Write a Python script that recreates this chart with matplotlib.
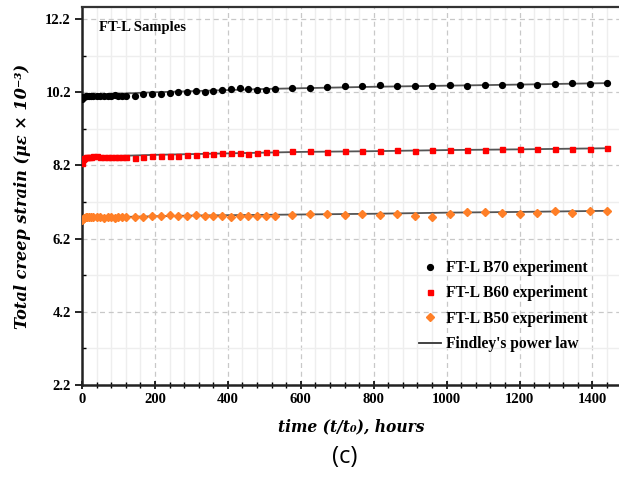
import matplotlib
matplotlib.use("Agg")
import matplotlib.pyplot as plt
from matplotlib.ticker import MultipleLocator, FixedLocator
from matplotlib.lines import Line2D

# time points (hours)
t = [0, 2, 5, 10, 15, 20, 25, 30, 40, 50, 60, 70, 80, 90, 100, 110, 120,
     144, 168, 192, 216, 240, 264, 288, 312, 336, 360, 384, 408, 432, 456,
     480, 504, 528, 576, 624, 672, 720, 768, 816, 864, 912, 960, 1008, 1056,
     1104, 1152, 1200, 1248, 1296, 1344, 1392, 1440]

b70 = [10.02, 10.06, 10.08, 10.09, 10.09, 10.10, 10.10, 10.10, 10.10, 10.11,
       10.10, 10.11, 10.11, 10.12, 10.11, 10.11, 10.10,
       10.09, 10.15, 10.16, 10.15, 10.18, 10.20, 10.22, 10.24, 10.22, 10.24,
       10.25, 10.29, 10.31, 10.29, 10.25, 10.26, 10.29, 10.32, 10.31, 10.35,
       10.36, 10.38, 10.39, 10.38, 10.37, 10.36, 10.40, 10.38, 10.40, 10.39,
       10.39, 10.40, 10.42, 10.44, 10.43, 10.45]

b60 = [8.27, 8.37, 8.40, 8.42, 8.43, 8.43, 8.44, 8.45, 8.45, 8.44,
       8.42, 8.43, 8.44, 8.43, 8.44, 8.43, 8.43,
       8.41, 8.44, 8.45, 8.45, 8.47, 8.47, 8.49, 8.49, 8.51, 8.50,
       8.53, 8.55, 8.53, 8.51, 8.55, 8.57, 8.56, 8.59, 8.59, 8.58,
       8.60, 8.60, 8.60, 8.61, 8.60, 8.62, 8.63, 8.63, 8.63, 8.64,
       8.65, 8.65, 8.65, 8.65, 8.66, 8.68]

b50 = [6.70, 6.75, 6.77, 6.78, 6.78, 6.79, 6.78, 6.78, 6.79, 6.78,
       6.77, 6.78, 6.78, 6.77, 6.78, 6.79, 6.79,
       6.78, 6.79, 6.81, 6.81, 6.84, 6.82, 6.82, 6.85, 6.82, 6.83,
       6.83, 6.79, 6.82, 6.83, 6.82, 6.82, 6.83, 6.85, 6.86, 6.87,
       6.84, 6.86, 6.84, 6.88, 6.81, 6.79, 6.88, 6.92, 6.93, 6.90,
       6.86, 6.90, 6.95, 6.90, 6.95, 6.96]

# Findley's power law curves
t_fit = [0, 5, 20, 50, 100, 200, 300, 400, 500, 600, 800, 1000, 1200, 1440]
fit70 = [10.02, 10.07, 10.10, 10.13, 10.16, 10.20, 10.23, 10.26, 10.29, 10.31,
         10.35, 10.38, 10.41, 10.45]
fit60 = [8.27, 8.38, 8.42, 8.44, 8.46, 8.49, 8.51, 8.53, 8.55, 8.57,
         8.59, 8.62, 8.64, 8.67]
fit50 = [6.70, 6.76, 6.77, 6.78, 6.79, 6.81, 6.83, 6.84, 6.85, 6.86,
         6.88, 6.91, 6.93, 6.96]

yticks = [2.2, 4.2, 6.2, 8.2, 10.2, 12.2]
yminor = [3.2, 5.2, 7.2, 9.2, 11.2]

serif = "Liberation Serif"

fig = plt.figure(figsize=(6.19, 4.86), dpi=100)
ax = fig.add_axes([0.1325, 0.2078, 0.8700, 0.7778])

for tf, yf in [(t_fit, fit70), (t_fit, fit60), (t_fit, fit50)]:
    ax.plot(tf, yf, color="#555555", lw=1.3, zorder=2)

ax.plot(t, b70, "o", color="black", ms=4.2, zorder=3)
ax.plot(t, b60, "s", color="#ff0000", ms=3.6, zorder=3)
ax.plot(t, b50, "D", color="#ff7f27", ms=3.6, zorder=3)

ax.set_xlim(0, 1477)
ax.set_ylim(2.2, 12.53)
ax.xaxis.set_major_locator(MultipleLocator(200))
ax.xaxis.set_minor_locator(MultipleLocator(40))
ax.yaxis.set_major_locator(FixedLocator(yticks))
ax.yaxis.set_minor_locator(FixedLocator(yminor))
ax.set_yticklabels([f"{v:.1f}" for v in yticks])

ax.grid(which="minor", color="#eeeeee", lw=1.0, ls="-", zorder=0)
ax.grid(which="major", color="#c8c8c8", lw=0.9, ls=(0, (4, 3)), zorder=1)
ax.set_axisbelow(True)

ax.tick_params(axis="x", which="major", direction="inout", length=6, width=1.2)
ax.tick_params(axis="x", which="minor", direction="inout", length=4, width=1.0)
ax.tick_params(axis="y", which="major", direction="out", length=5, width=1.2)
ax.tick_params(axis="y", which="minor", direction="in", length=3, width=1.0)
ax.tick_params(labelsize=10.5, pad=3)
for lab in ax.get_xticklabels() + ax.get_yticklabels():
    lab.set_fontfamily(serif)
    lab.set_fontweight("bold")

for side in ["left", "bottom"]:
    ax.spines[side].set_linewidth(1.8)
    ax.spines[side].set_color("#222222")
ax.spines["top"].set_linewidth(1.6)
ax.spines["top"].set_color("#333333")
ax.spines["right"].set_visible(False)

ax.text(0.032, 0.945, "FT-L Samples", transform=ax.transAxes,
        fontfamily=serif, fontweight="bold", fontsize=10.5, va="center")

ax.set_ylabel("Total creep strain (με × 10⁻³)", fontfamily="DejaVu Serif",
              fontweight="bold", fontstyle="italic", fontsize=11.6, labelpad=10)
ax.set_xlabel("time (t/t₀), hours", fontfamily="DejaVu Serif",
              fontweight="bold", fontstyle="italic", fontsize=11.2, labelpad=9)

handles = [
    Line2D([], [], marker="o", ls="none", color="black", ms=4.2),
    Line2D([], [], marker="s", ls="none", color="#ff0000", ms=3.6),
    Line2D([], [], marker="D", ls="none", color="#ff7f27", ms=3.6),
    Line2D([], [], color="#333333", lw=1.3),
]
labels = ["FT-L B70 experiment", "FT-L B60 experiment",
          "FT-L B50 experiment", "Findley's power law"]
ax.legend(handles, labels, loc="lower left", bbox_to_anchor=(0.6, 0.05),
          frameon=False, handlelength=1.4, handletextpad=0.3,
          labelspacing=0.6, prop={"family": serif, "weight": "bold", "size": 11.2})

fig.text(0.557, 0.06, "(c)", fontfamily="Open Sans", fontsize=17,
         ha="center", va="center")

fig.savefig("out.png", dpi=100)
